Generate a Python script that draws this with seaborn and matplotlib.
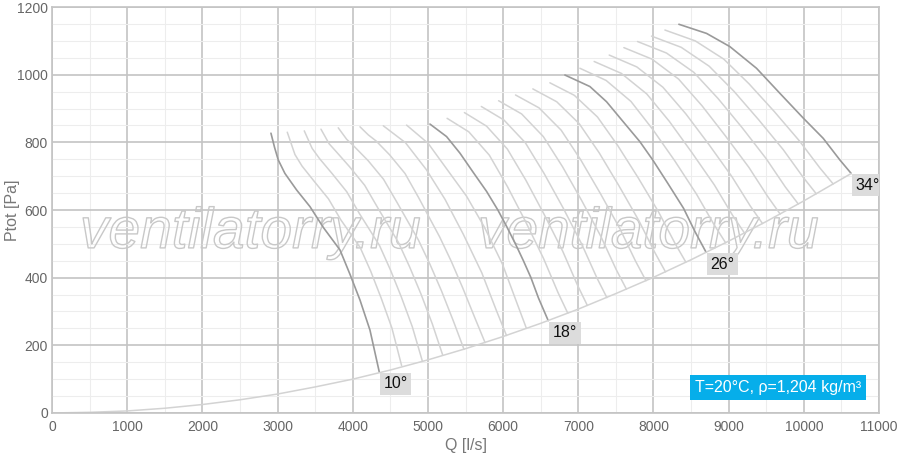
import pandas as pd
import matplotlib
matplotlib.use('Agg')
import matplotlib.pyplot as plt
import matplotlib.patheffects as pe
from matplotlib.ticker import MultipleLocator
import seaborn as sns

# Lopatka açıları (derece)
angles = list(range(10, 35))
highlight = [10, 18, 26, 34]

# Her açı için eğri noktaları: Q [l/s]
curve_q = [
    [2912, 2960, 3009, 3098, 3254, 3431, 3610, 3830, 3963, 4096, 4229, 4352],
    [3129, 3231, 3325, 3490, 3677, 3841, 4099, 4239, 4379, 4521, 4650],
    [3355, 3460, 3558, 3728, 3920, 4090, 4356, 4501, 4646, 4792, 4925],
    [3577, 3685, 3786, 3961, 4159, 4334, 4608, 4758, 4907, 5057, 5195],
    [3807, 3919, 4023, 4204, 4409, 4590, 4874, 5028, 5182, 5338, 5480],
    [4096, 4207, 4311, 4491, 4695, 4875, 5157, 5311, 5464, 5619, 5760],
    [4406, 4701, 4980, 5226, 5471, 5717, 5914, 6045],
    [4716, 5003, 5274, 5513, 5752, 5991, 6182, 6310],
    [5027, 5248, 5426, 5600, 5780, 5930, 6050, 6170, 6270, 6370, 6470, 6600],
    [5255, 5544, 5817, 6058, 6298, 6539, 6732, 6860],
    [5485, 5779, 6057, 6303, 6548, 6793, 6989, 7120],
    [5710, 6011, 6295, 6545, 6796, 7046, 7246, 7380],
    [5940, 6246, 6535, 6790, 7045, 7300, 7504, 7640],
    [6165, 6477, 6772, 7033, 7293, 7553, 7761, 7900],
    [6395, 6713, 7013, 7278, 7542, 7807, 8019, 8160],
    [6622, 6947, 7255, 7526, 7797, 8068, 8285, 8430],
    [6822, 7154, 7376, 7597, 7819, 7990, 8190, 8400, 8550, 8700],
    [7021, 7370, 7700, 7991, 8281, 8572, 8805, 8960],
    [7211, 7571, 7911, 8211, 8510, 8810, 9050, 9210],
    [7411, 7778, 8125, 8431, 8736, 9042, 9287, 9450],
    [7606, 7980, 8334, 8646, 8957, 9269, 9519, 9685],
    [7788, 8173, 8536, 8857, 9177, 9498, 9754, 9925],
    [7974, 8368, 8741, 9070, 9398, 9727, 9990, 10165],
    [8152, 8555, 8935, 9271, 9607, 9942, 10211, 10390],
    [8338, 8706, 9016, 9370, 9681, 9991, 10257, 10479, 10630],
]

# Her açı için eğri noktaları: Ptot [Pa]
curve_p = [
    [827, 785, 748, 708, 659, 610, 548, 482, 410, 334, 245, 122],
    [830, 764, 730, 684, 633, 571, 489, 419, 339, 251, 140],
    [834, 782, 752, 707, 654, 589, 495, 423, 343, 255, 154],
    [839, 796, 771, 727, 673, 606, 504, 431, 352, 264, 172],
    [843, 809, 787, 746, 691, 622, 511, 439, 360, 272, 188],
    [846, 822, 804, 763, 708, 637, 520, 448, 369, 284, 208],
    [849, 799, 719, 632, 528, 414, 301, 229],
    [851, 797, 714, 641, 549, 440, 326, 250],
    [854, 817, 768, 712, 655, 600, 550, 497, 450, 400, 340, 273],
    [871, 831, 762, 669, 566, 456, 355, 295],
    [888, 848, 780, 688, 586, 478, 378, 318],
    [906, 866, 799, 708, 607, 499, 400, 341],
    [923, 884, 817, 728, 628, 522, 424, 366],
    [940, 902, 836, 748, 649, 545, 449, 391],
    [958, 920, 855, 769, 671, 568, 474, 417],
    [976, 939, 875, 790, 695, 594, 502, 446],
    [999, 965, 920, 861, 802, 748, 679, 605, 537, 475],
    [1019, 983, 921, 838, 746, 647, 557, 503],
    [1039, 1004, 943, 862, 770, 674, 585, 532],
    [1058, 1023, 963, 884, 794, 699, 612, 560],
    [1080, 1046, 987, 908, 819, 726, 640, 588],
    [1098, 1064, 1007, 930, 844, 752, 668, 618],
    [1114, 1081, 1025, 951, 867, 778, 697, 648],
    [1132, 1100, 1046, 973, 891, 804, 725, 677],
    [1149, 1122, 1083, 1019, 945, 872, 812, 748, 708],
]

# Sistem (şebeke) eğrisi
sys_q = [0, 500, 1000, 1500, 2000, 2500, 3000, 3500, 4000, 4500, 5000,
         5500, 6000, 6500, 7000, 7500, 8000, 8500, 9000, 9500, 10000, 10630]
sys_p = [0, 2, 6, 14, 25, 39, 56, 77, 100, 127, 157,
         190, 226, 265, 307, 353, 401, 453, 508, 566, 627, 708]

x_ticks = list(range(0, 11001, 1000))
y_ticks = list(range(0, 1201, 200))

# Uzun formatta tablo
rows = []
for a, qs, ps in zip(angles, curve_q, curve_p):
    for q, p in zip(qs, ps):
        rows.append((a, q, p))
df = pd.DataFrame(rows, columns=['angle', 'Q', 'P'])

sns.set_theme(style='white')
plt.rcParams['font.family'] = ['Liberation Sans', 'DejaVu Sans']

fig = plt.figure(figsize=(9, 4.62), dpi=100)
ax = fig.add_axes([0.0578, 0.1061, 0.9189, 0.8787])

# Filigran
for wx in [372, 5665]:
    ax.text(wx, 488, 'ventilatorry.ru', fontsize=41, style='italic', color='none',
            path_effects=[pe.Stroke(linewidth=1.0, foreground='#c8c8c8')], zorder=1.5)

light = df[~df['angle'].isin(highlight)]
dark = df[df['angle'].isin(highlight)]
sns.lineplot(data=light, x='Q', y='P', units='angle', estimator=None, sort=False,
             color='#d3d3d3', lw=1.1, ax=ax)
sns.lineplot(data=dark, x='Q', y='P', units='angle', estimator=None, sort=False,
             color='#9a9a9a', lw=1.2, ax=ax)
sns.lineplot(x=sys_q, y=sys_p, color='#d3d3d3', lw=1.1, ax=ax)

# Açı etiketleri
for a, qs, ps in zip(angles, curve_q, curve_p):
    if a in highlight:
        ax.annotate(f'{a}°', xy=(qs[-1], ps[-1]), xytext=(3.2, -3.2),
                    textcoords='offset points', ha='left', va='top',
                    fontsize=11.5, color='#111111', zorder=5, clip_on=True,
                    bbox=dict(boxstyle='square,pad=0.22', fc='#dcdcdc', ec='none'))

ax.text(0.9785, 0.044, 'T=20°C, ρ=1,204 kg/m³', transform=ax.transAxes,
        ha='right', va='bottom', fontsize=11.5, color='white', zorder=6,
        bbox=dict(boxstyle='square,pad=0.3', fc='#06aeea', ec='none'))

ax.set_xlim(0, 11000)
ax.set_ylim(0, 1200)
ax.set_xticks(x_ticks)
ax.set_yticks(y_ticks)
ax.xaxis.set_minor_locator(MultipleLocator(500))
ax.yaxis.set_minor_locator(MultipleLocator(50))
ax.set_axisbelow(True)
ax.grid(which='minor', color='#ededed', lw=0.8)
ax.grid(which='major', color='#c4c4c4', lw=1.2)
ax.tick_params(which='both', length=0)
ax.tick_params(axis='x', labelsize=10, labelcolor='#666666', pad=5)
ax.tick_params(axis='y', labelsize=10, labelcolor='#666666', pad=3)
for s in ax.spines.values():
    s.set_color('#c4c4c4')
    s.set_linewidth(1.2)

ax.set_xlabel('Q [l/s]', fontsize=11.5, color='#777777')
ax.set_ylabel('Ptot [Pa]', fontsize=11.5, color='#777777')
ax.xaxis.set_label_coords(0.5, -0.062)
ax.xaxis.label.set_va('top')
ax.yaxis.set_label_coords(-0.039, 0.5)

fig.savefig('out.png', dpi=100)
